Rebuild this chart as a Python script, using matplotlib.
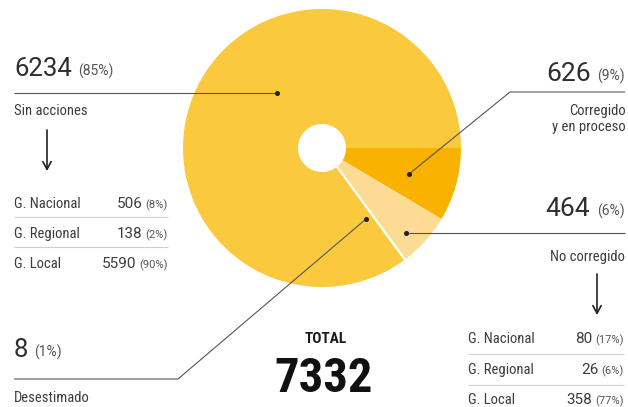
import matplotlib
matplotlib.use("Agg")
import matplotlib.pyplot as plt
from matplotlib import font_manager as fm

# ---------------- data ----------------
categories = ["Corregido y en proceso", "No corregido", "Desestimado", "Sin acciones"]
values = [626, 464, 8, 6234]
percents = ["(9%)", "(6%)", "(1%)", "(85%)"]
total = 7332

sin_rows = ["G. Nacional", "G. Regional", "G. Local"]
sin_vals = [506, 138, 5590]
sin_pcts = ["(8%)", "(2%)", "(90%)"]

no_rows = ["G. Nacional", "G. Regional", "G. Local"]
no_vals = [80, 26, 358]
no_pcts = ["(17%)", "(6%)", "(77%)"]

colors = ["#F9B200", "#FCDC94", "#FFFFFF", "#FAC93E"]

# ---------------- fonts ----------------
names = {f.name for f in fm.fontManager.ttflist}


def pick(*cands):
    for c in cands:
        if c in names:
            return c
    return "DejaVu Sans"


NARROW = pick("Roboto Condensed", "Archivo Narrow", "PT Sans Narrow", "Liberation Sans")
REG = pick("Roboto", "Liberation Sans")

W, H = 628, 407
fig = plt.figure(figsize=(W / 100, H / 100), dpi=100)
ax = fig.add_axes([0, 0, 1, 1])


def Y(y):
    return H - y


# ---------------- pie ----------------
cx, cy, R, hole = 322, 148, 139, 24
wedges, _ = ax.pie(values, colors=colors, startangle=0, counterclock=False,
                   center=(cx, Y(cy)), radius=R,
                   wedgeprops=dict(width=R - hole, linewidth=0))
wedges[2].set_edgecolor("#FFFDF5")
wedges[2].set_linewidth(2.5)
ax.set_xlim(0, W)
ax.set_ylim(0, H)
ax.set_aspect("equal")
ax.axis("off")

renderer = fig.canvas.get_renderer()
DARK = "#2e2e2e"
GREY = "#3d3d3d"
PCT = "#555555"
LINE = "#555555"
SEP = "#cfcfcf"


def line(pts, color=LINE, lw=0.8):
    xs = [p[0] for p in pts]
    ys = [Y(p[1]) for p in pts]
    ax.plot(xs, ys, color=color, lw=lw, solid_capstyle="butt")


def dot(x, y):
    ax.plot([x], [Y(y)], "o", color="#222222", ms=2.6)


def headline_left(x, y, num, pct):
    t = ax.text(x, Y(y), num, family=REG, fontsize=18.5, color=DARK,
                va="baseline", ha="left")
    bb = t.get_window_extent(renderer)
    ax.text(bb.x1 + 6, Y(y), pct, family=REG, fontsize=10, color=PCT,
            va="baseline", ha="left")


def headline_right(x, y, num, pct):
    t = ax.text(x, Y(y), pct, family=REG, fontsize=10, color=PCT,
                va="baseline", ha="right")
    bb = t.get_window_extent(renderer)
    ax.text(bb.x0 - 7, Y(y), num, family=REG, fontsize=19, color=DARK,
            va="baseline", ha="right")


def table(x0, x1, baselines, seps, rows, vals, pcts):
    for b, r, v, p in zip(baselines, rows, vals, pcts):
        ax.text(x0, Y(b), r, family=NARROW, fontsize=10.5, color=GREY, va="baseline", ha="left")
        t = ax.text(x1, Y(b), p, family=REG, fontsize=8, color=PCT,
                    va="baseline", ha="right")
        bb = t.get_window_extent(renderer)
        ax.text(bb.x0 - 3, Y(b), str(v), family=REG, fontsize=11,
                color=GREY, va="baseline", ha="right")
    for s in seps:
        line([(x0, s), (x1, s)], color=SEP, lw=0.8)


def arrow(x, y0, y1):
    ax.annotate("", xy=(x, Y(y1)), xytext=(x, Y(y0)),
                arrowprops=dict(arrowstyle="->,head_length=0.55,head_width=0.3",
                                color="#222222", lw=1.2, shrinkA=0, shrinkB=0))


# Sin acciones (left top)
headline_left(14, 76, str(values[3]), percents[3])
line([(14, 93), (277, 93)])
dot(277, 93)
ax.text(14, Y(115), categories[3], family=NARROW, fontsize=10.5, color=GREY,
        va="baseline", ha="left")
arrow(47, 130, 171)
table(14, 168, [208, 238, 268], [217, 247], sin_rows, sin_vals, sin_pcts)

# Corregido y en proceso (right top)
headline_right(625, 81, str(values[0]), percents[0])
line([(625, 92), (510, 92), (409, 174)])
dot(409, 174)
ax.text(626, Y(131), "Corregido\ny en proceso", family=NARROW, fontsize=10.5, color=GREY,
        va="baseline", ha="right", multialignment="right", linespacing=1.2)

# No corregido (right middle)
headline_right(625, 216, str(values[1]), percents[1])
line([(625, 233), (406, 233)])
dot(406, 233)
ax.text(625, Y(261), categories[1], family=NARROW, fontsize=10.5, color=GREY,
        va="baseline", ha="right")
arrow(597, 274, 315)
table(468, 624, [343, 374, 404], [354, 385], no_rows, no_vals, no_pcts)

# Desestimado (left bottom)
headline_left(14, 357, str(values[2]), percents[2])
line([(14, 379), (178, 379), (366, 219)])
dot(366, 219)
ax.text(14, Y(402), categories[2], family=NARROW, fontsize=10.5, color=GREY,
        va="baseline", ha="left")

# Total
ax.text(326, Y(343), "TOTAL", family=NARROW, fontsize=11, fontweight="bold", color="#1a1a1a",
        va="baseline", ha="center")
ax.text(324, Y(392), f"{total}", family=NARROW, fontsize=35, fontweight="bold", color="#111111",
        va="baseline", ha="center")

fig.savefig("out.png", dpi=100, facecolor="white")
